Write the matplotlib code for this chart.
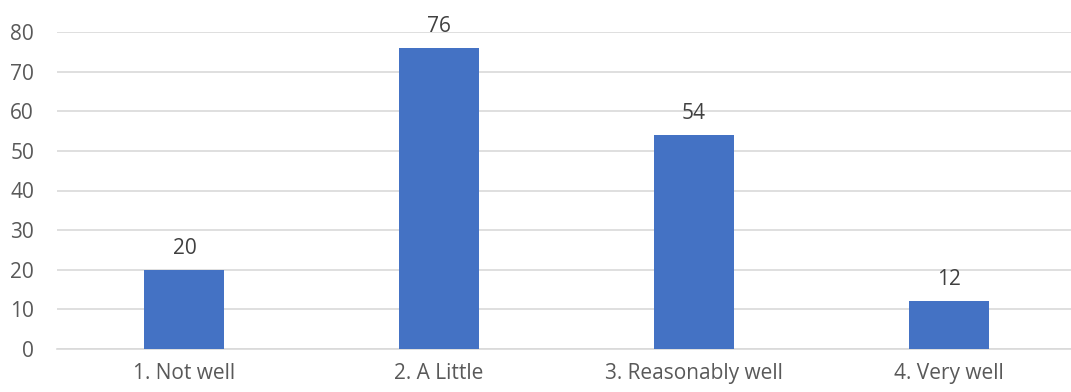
import matplotlib.pyplot as plt

categories = ["1. Not well", "2. A Little", "3. Reasonably well", "4. Very well"]
counts = [20, 76, 54, 12]
y_ticks = [0, 10, 20, 30, 40, 50, 60, 70, 80]

text_color = "#595959"
plt.rcParams['font.family'] = ['Open Sans', 'DejaVu Sans']

fig = plt.figure(figsize=(10.71, 3.92), dpi=100)
ax = fig.add_axes([57 / 1071, 43 / 392, 1019 / 1071, 317 / 392])

x = range(len(categories))
bars = ax.bar(x, counts, width=0.314, color="#4472C4", zorder=3)

# value labels above each bar
for rect, val in zip(bars, counts):
    ax.annotate(str(val), (rect.get_x() + rect.get_width() / 2, rect.get_height()),
                xytext=(0, 8), textcoords="offset points",
                ha="center", va="bottom", fontsize=15, color="#404040")

ax.set_xlim(-0.5, len(categories) - 0.5)
ax.set_ylim(0, 80)
ax.set_yticks(y_ticks)
ax.set_xticks(list(x))
ax.set_xticklabels(categories)
ax.grid(axis="y", color="#D9D9D9", linewidth=1.2, zorder=0)
ax.tick_params(axis="both", length=0, labelsize=15, labelcolor=text_color)
ax.tick_params(axis="y", pad=16.5)
ax.tick_params(axis="x", pad=10)
for side in ["top", "right", "left"]:
    ax.spines[side].set_visible(False)
ax.spines["bottom"].set_color("#D9D9D9")
ax.spines["bottom"].set_linewidth(1.2)

fig.savefig("out.png", dpi=100)
